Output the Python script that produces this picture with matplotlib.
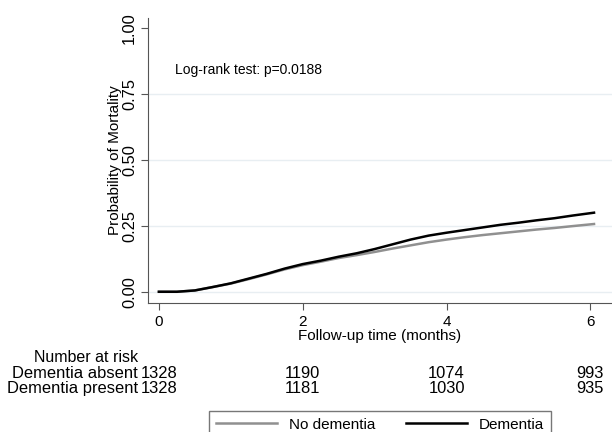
import matplotlib.pyplot as plt
import matplotlib.transforms as mtransforms

plt.rcParams['font.family'] = ['Liberation Sans', 'DejaVu Sans']

# Kaplan-Meier failure estimates
months = [0, 0.25, 0.5, 0.75, 1.0, 1.25, 1.5, 1.75, 2.0, 2.25, 2.5, 2.75,
          3.0, 3.25, 3.5, 3.75, 4.0, 4.25, 4.5, 4.75, 5.0, 5.25, 5.5, 5.75, 6.05]
dementia = [0, 0.0, 0.005, 0.018, 0.032, 0.05, 0.068, 0.088, 0.105, 0.118,
            0.133, 0.146, 0.162, 0.18, 0.198, 0.213, 0.224, 0.234, 0.244,
            0.254, 0.262, 0.271, 0.279, 0.289, 0.30]
no_dementia = [0, 0.0, 0.005, 0.018, 0.031, 0.048, 0.066, 0.085, 0.101, 0.114,
               0.128, 0.139, 0.151, 0.164, 0.176, 0.188, 0.198, 0.207, 0.215,
               0.222, 0.229, 0.236, 0.242, 0.249, 0.257]

risk_times = [0, 2, 4, 6]
risk_absent = [1328, 1190, 1074, 993]
risk_present = [1328, 1181, 1030, 935]

fs = 11
tfs = 11.9  # risk table is set a bit larger
fig = plt.figure(figsize=(6.12, 4.32), dpi=100)
ax = fig.add_axes([0.242, 0.299, 0.758, 0.659])

for y in [0, 0.25, 0.5, 0.75]:
    ax.axhline(y, color='#e8eef2', lw=1, zorder=0)

ax.plot(months, no_dementia, color='#909090', lw=1.8, label='No dementia')
ax.plot(months, dementia, color='black', lw=1.8, label='Dementia')

ax.set_xlim(-0.15, 6.3)
ax.set_ylim(-0.042, 1.038)
ax.set_xticks([0, 2, 4, 6])
ax.set_yticks([0, 0.25, 0.5, 0.75, 1.0])
ax.set_yticklabels(['0.00', '0.25', '0.50', '0.75', '1.00'],
                   rotation=90, va='center')
ax.tick_params(labelsize=fs, length=5, color='#555555')
ax.tick_params(axis='y', pad=3, labelsize=11.8)
for s in ['top', 'right']:
    ax.spines[s].set_visible(False)
for s in ['left', 'bottom']:
    ax.spines[s].set_color('#555555')
ax.set_xlabel('Follow-up time (months)', fontsize=fs, labelpad=0)
ax.set_ylabel('Probability of Mortality', fontsize=fs, labelpad=0)

ax.text(0.22, 0.84, 'Log-rank test: p=0.0188', fontsize=10, va='center')

# number at risk table
tr = mtransforms.blended_transform_factory(ax.transData, ax.transAxes)
ax.text(-1.01, -0.193, 'Number at risk', transform=tr, ha='center',
        va='center', fontsize=11.5, clip_on=False)
ax.text(-0.29, -0.249, 'Dementia absent', transform=tr, ha='right',
        va='center', fontsize=tfs)
ax.text(-0.29, -0.302, 'Dementia present', transform=tr, ha='right',
        va='center', fontsize=tfs)
for t, a, p in zip(risk_times, risk_absent, risk_present):
    ax.text(t, -0.249, str(a), transform=tr, ha='center', va='center',
            fontsize=tfs)
    ax.text(t, -0.302, str(p), transform=tr, ha='center', va='center',
            fontsize=tfs)

leg = fig.legend(loc='upper center', bbox_to_anchor=(0.621, 0.067), ncol=2,
                 fontsize=fs, frameon=True, fancybox=False, handlelength=4,
                 columnspacing=2.0, borderpad=0.45)
leg.get_frame().set_edgecolor('#555555')

fig.savefig('out.png', dpi=100)
